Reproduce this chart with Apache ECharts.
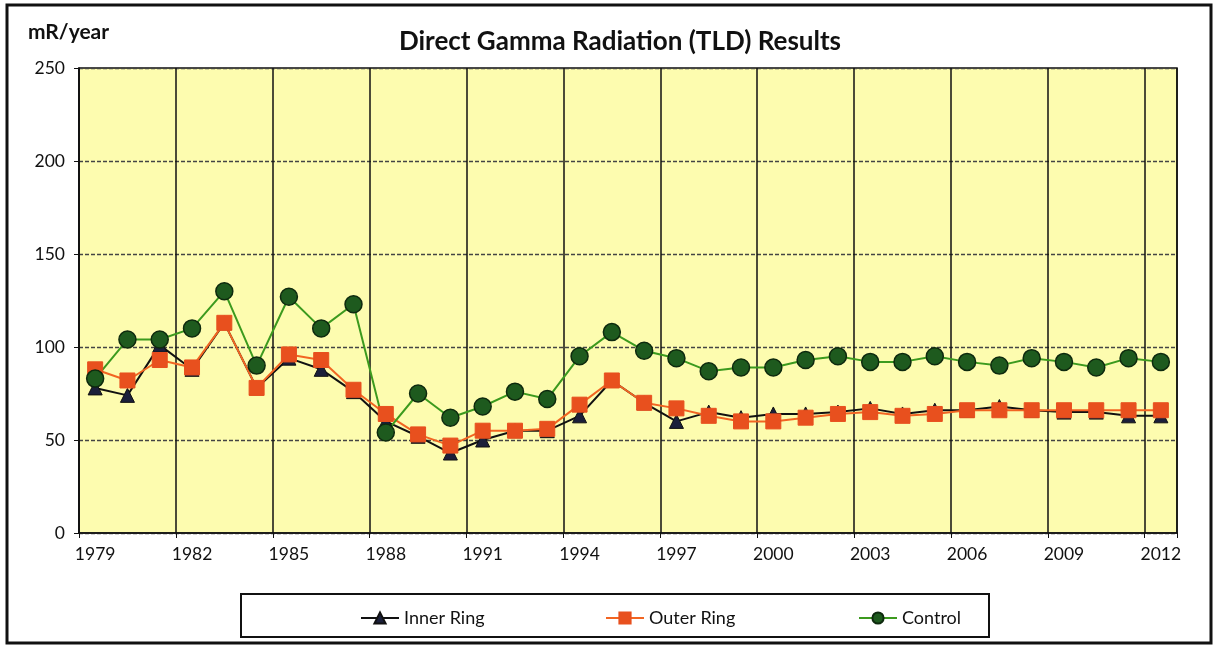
<!DOCTYPE html>
<html>
<head>
<meta charset="utf-8">
<script src="https://cdn.jsdelivr.net/npm/echarts@6/dist/echarts.min.js"></script>
<style>
    html, body { margin: 0; padding: 0; background: #fff; }
    #chart { width: 1217px; height: 650px; }
</style>
</head>
<body>
<div id="chart"></div>
<script>
    // years on the category axis
    var years = [];
    for (var y = 1979; y <= 2012; y++) years.push(String(y));

    var innerRing = [78, 74, 101, 88, 113, 78, 94, 88, 76, 60, 52, 43, 50, 55, 55, 63, 82, 70, 60, 65,
        62, 64, 64, 65, 67, 64, 66, 66, 68, 66, 65, 65, 63, 63];
    var outerRing = [88, 82, 93, 89, 113, 78, 96, 93, 77, 64, 53, 47, 55, 55, 56, 69, 82, 70, 67, 63,
        60, 60, 62, 64, 65, 63, 64, 66, 66, 66, 66, 66, 66, 66];
    var control = [83, 104, 104, 110, 130, 90, 127, 110, 123, 54, 75, 62, 68, 76, 72, 95, 108, 98, 94, 87,
        89, 89, 93, 95, 92, 92, 95, 92, 90, 94, 92, 89, 94, 92];

    var font = 'Lato, "Open Sans", sans-serif';
    var chart = echarts.init(document.getElementById('chart'));

    function legendAt(name, left) {
        return {
            top: 604, left: left, itemWidth: 38, itemHeight: 14,
            textStyle: { fontSize: 18, color: '#111', fontFamily: font },
            data: [name]
        };
    }

    var option = {
        backgroundColor: '#fff',
        textStyle: { fontFamily: font },
        title: {
            text: 'Direct Gamma Radiation (TLD) Results',
            left: 615, top: 24, textAlign: 'center',
            textStyle: { fontSize: 26, fontWeight: 'bold', color: '#111', fontFamily: font }
        },
        graphic: [
            { type: 'rect', shape: { x: 7, y: 5, width: 1204, height: 638 },
              style: { fill: null, stroke: '#111', lineWidth: 3 } },
            { type: 'rect', shape: { x: 241, y: 594, width: 748, height: 43 },
              style: { fill: null, stroke: '#111', lineWidth: 2 } },
            { type: 'text', left: 28, top: 22,
              style: { text: 'mR/year', font: 'bold 21px ' + font, fill: '#111' } }
        ],
        legend: [
            legendAt('Inner Ring', 355),
            legendAt('Outer Ring', 600),
            legendAt('Control', 853)
        ],
        grid: {
            left: 79, top: 68, right: 40, bottom: 117,
            show: true, backgroundColor: '#fdfcaf', borderColor: '#111', borderWidth: 1.5
        },
        xAxis: {
            type: 'category', data: years, boundaryGap: true,
            axisLine: { lineStyle: { color: '#111', width: 1.5 } },
            axisTick: { show: true, interval: 2, length: 5, lineStyle: { color: '#111' } },
            axisLabel: { interval: 2, fontSize: 17.5, color: '#111', margin: 12 },
            splitLine: { show: true, interval: 2, lineStyle: { color: '#111', width: 1.5 } }
        },
        yAxis: {
            type: 'value', min: 0, max: 250, interval: 50,
            axisLine: { show: true, lineStyle: { color: '#111', width: 1.5 } },
            axisTick: { show: true, length: 5, lineStyle: { color: '#111' } },
            axisLabel: { fontSize: 17.5, color: '#111', margin: 14 },
            splitLine: { show: true, lineStyle: { color: '#444', width: 1.3, type: [4, 2] } }
        },
        series: [
            {
                name: 'Inner Ring', type: 'line', data: innerRing,
                symbol: 'triangle', symbolSize: 14,
                lineStyle: { color: '#111', width: 2 },
                itemStyle: { color: '#1b1f3a', borderColor: '#111', borderWidth: 1 }
            },
            {
                name: 'Outer Ring', type: 'line', data: outerRing,
                symbol: 'rect', symbolSize: 15,
                lineStyle: { color: '#f26522', width: 2 },
                itemStyle: { color: '#e8501e', borderColor: '#e8501e', borderWidth: 1 }
            },
            {
                name: 'Control', type: 'line', data: control,
                symbol: 'circle', symbolSize: 17,
                lineStyle: { color: '#3c9a1e', width: 2 },
                itemStyle: { color: '#1e5a1e', borderColor: '#0e2a0e', borderWidth: 1.5 }
            }
        ]
    };
    chart.setOption(option);
</script>
</body>
</html>
